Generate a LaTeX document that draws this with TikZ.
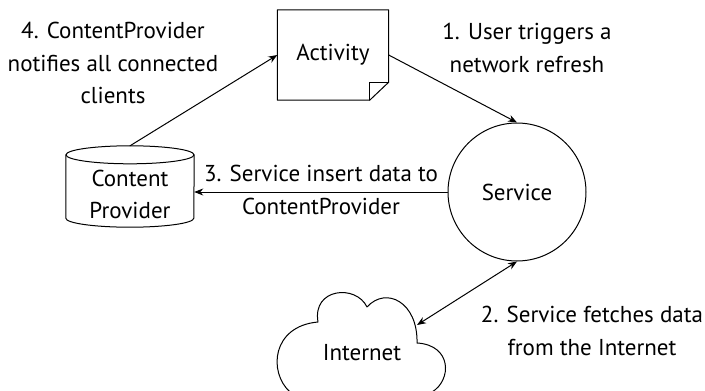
\documentclass[tikz,border=0pt]{standalone}
\usepackage{fontspec}
\setmainfont{PT Sans}
\usetikzlibrary{arrows.meta,calc}
\begin{document}
\begin{tikzpicture}[x=1pt, y=-1pt, line cap=round, line join=round, >={Stealth[length=9pt,width=7pt]},
    every node/.style={font=\fontsize{23}{32.5}\selectfont, align=center},
    shapebox/.style={inner sep=0pt},
    conn/.style={line width=1pt}]
    % Page frame, same size as the reference
    \useasboundingbox (0,0) rectangle (705,391);

    % Activity: note with folded corner
    \node[shapebox, minimum width=111pt, minimum height=90pt] (act) at (333,55) {Activity};
    \draw[conn] (act.north west) -- (act.north east) -- ($(act.south east)+(0,-18)$)
        -- ($(act.south east)+(-19,0)$) -- (act.south west) -- cycle;
    \draw[conn] ($(act.south east)+(-19,0)$) -- ($(act.south east)+(-19,-18)$) -- ($(act.south east)+(0,-18)$);

    % Content Provider: cylinder
    \node[shapebox, minimum width=128pt, minimum height=81pt] (cp) at (130,186.5) {};
    \node (cptxt) at ($(cp.center)+(0,8)$) {Content\\Provider};
    \draw[conn] ($(cp.north)+(0,9)$) ellipse [x radius=64, y radius=9];
    \draw[conn] ($(cp.north west)+(0,9)$) -- ($(cp.south west)+(0,-9)$)
        arc[start angle=180, end angle=0, x radius=64, y radius=9] -- ($(cp.north east)+(0,9)$);

    % Service: circle
    \node[shapebox, circle, draw, line width=1pt, minimum size=138pt] (srv) at (517,192) {Service};

    % Internet: cloud, cut by the lower edge
    \node[shapebox] (inet) at (362,353) {Internet};
    \draw[conn] (290,392) .. controls (268,372) and (272,326) .. (318,322)
        .. controls (312,288) and (356,284) .. (367,307)
        .. controls (386,286) and (418,302) .. (417,343)
        .. controls (452,345) and (452,380) .. (432,392)
        .. controls (400,410) and (320,410) .. (290,392);
    \coordinate (inetpt) at (417,325);

    % Connectors
    \draw[conn, ->] (act.east) -- (srv.north);
    \draw[conn, <->] (inetpt) -- (srv.south);
    \draw[conn, ->] (srv.west) -- (srv.west -| cp.east);
    \draw[conn, ->] (cp.north) -- (act.west);

    % Step labels
    \node (lbl1) at (527,48) {1. User triggers a\\network refresh};
    \node (lbl2) at (592,331) {2. Service fetches data\\from the Internet};
    \node (lbl3) at (321,190) {3. Service insert data to\\ContentProvider};
    \node (lbl4) at (113,63) {4. ContentProvider\\notifies all connected\\clients};
\end{tikzpicture}
\end{document}
